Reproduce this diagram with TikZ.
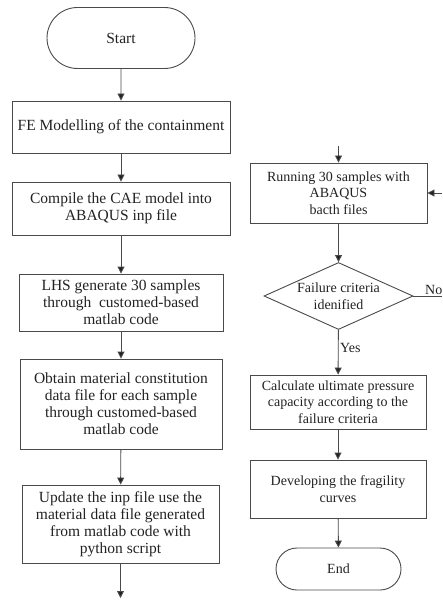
\documentclass[tikz,border=0pt]{standalone}
\usepackage{fontspec}
\setmainfont{Liberation Serif}
\usetikzlibrary{shapes.misc,shapes.geometric,arrows.meta}
\definecolor{flowline}{HTML}{4A4A4A}
\definecolor{flowtext}{HTML}{222222}
\newcommand\flowfont{\fontsize{14}{16.7}\selectfont}
\newcommand\leftfont{\fontsize{15.5}{16.9}\selectfont}
\tikzset{
  flowbox/.style={draw=flowline, line width=0.9pt, inner sep=2pt, align=center,
    text=flowtext, font=\flowfont},
  leftbox/.style={flowbox, font=\leftfont},
  flowend/.style={flowbox, rounded rectangle},
  flowtest/.style={draw=flowline, line width=0.9pt, diamond, inner sep=0pt},
  flowlabel/.style={text=flowtext, font=\flowfont, inner sep=1pt},
  flowarrow/.style={draw=flowline, line width=0.9pt,
    -{Triangle[width=7pt,length=7pt,fill=flowtext]}},
  flowwire/.style={draw=flowline, line width=0.9pt}
}
\newcommand\flowbox[6]{
  \node[flowbox, minimum width=#4pt, minimum height=#5pt] (#1) at (#2, #3) {#6};
}
\newcommand\leftbox[6]{
  \node[leftbox, minimum width=#4pt, minimum height=#5pt] (#1) at (#2, #3) {#6};
}
\begin{document}
\begin{tikzpicture}[x=1pt, y=-1pt]
    \useasboundingbox (0, 0) rectangle (442, 601);
    \node[flowend, font=\leftfont, minimum width=152pt, minimum height=61pt] (start) at (121, 38) {Start};
    \leftbox{model}{121}{127}{218}{52}{FE Modelling of the containment}
    \leftbox{compile}{121}{208.5}{218}{53}{Compile the CAE model into\\ABAQUS inp file}
    \leftbox{lhs}{121}{302.5}{204}{57}{LHS generate 30 samples\\through\ \ customed-based\\matlab code}
    \leftbox{obtain}{121}{404}{202}{90}{Obtain material constitution\\data file for each sample\\through customed-based\\matlab code}
    \leftbox{update}{120.5}{524}{197}{78}{Update the inp file use the\\material data file generated\\from matlab code with\\python script}
    \coordinate (leftout) at (120.5, 598);
    \draw[flowarrow] (start) -- (model);
    \draw[flowarrow] (model) -- (compile);
    \draw[flowarrow] (compile) -- (lhs);
    \draw[flowarrow] (lhs) -- (obtain);
    \draw[flowarrow] (obtain) -- (update);
    \draw[flowarrow] (update) -- (leftout);

    \coordinate (rightin) at (338.5, 146);
    \coordinate (loopin) at (442, 193);
    \coordinate (loopout) at (442, 296);
    \flowbox{running}{338.5}{193}{177}{60}{Running 30 samples with\\ABAQUS\\bacth files}
    \node[flowtest, minimum width=149pt, minimum height=67pt] (failure) at (338.5, 296) {};
    \node[flowlabel, align=center] (failuretext) at (failure) {Failure criteria\\idenified};
    \flowbox{calc}{338}{402}{176}{54}{Calculate ultimate pressure\\capacity according to the\\failure criteria}
    \flowbox{fragility}{338}{489}{176}{58}{Developing the fragility\\curves}
    \node[flowend, minimum width=129pt, minimum height=42pt] (end) at (338.5, 569) {End};
    \draw[flowarrow] (rightin) -- (running);
    \draw[flowarrow] (loopin) -- (running.east);
    \draw[flowarrow] (running) -- (failure);
    \draw[flowwire] (failure.east) -- (loopout);
    \node[flowlabel, anchor=south west] (no) at (424, 296) {No};
    \draw[flowarrow] (failure) -- (calc);
    \node[flowlabel, anchor=west] (yes) at (339, 348) {Yes};
    \draw[flowarrow] (calc) -- (fragility);
    \draw[flowarrow] (fragility) -- (end);
\end{tikzpicture}
\end{document}
